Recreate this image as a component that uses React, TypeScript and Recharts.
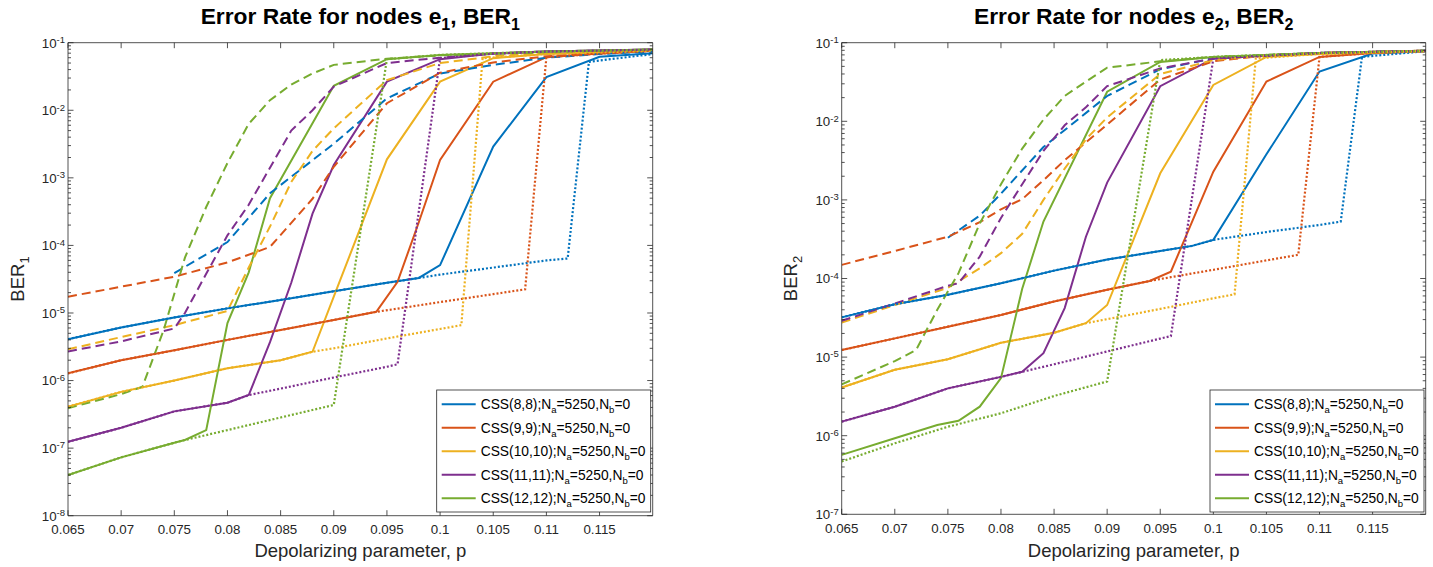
import React from 'react';
import { LineChart, Line, XAxis, YAxis } from 'recharts';

type Pt = [number, number];

const COLORS = ['#0072BD', '#D95319', '#EDB120', '#7E2F8E', '#77AC30'];
const AXIS = '#262626';
const FONT = '"Liberation Sans", Arial, Helvetica, sans-serif';

const codeNames = ['CSS(8,8)', 'CSS(9,9)', 'CSS(10,10)', 'CSS(11,11)', 'CSS(12,12)'];
const xTicks = [0.065, 0.07, 0.075, 0.08, 0.085, 0.09, 0.095, 0.1, 0.105, 0.11, 0.115];
const ber1Decades = [-8, -7, -6, -5, -4, -3, -2, -1];
const ber2Decades = [-7, -6, -5, -4, -3, -2, -1];

// ---- BER1, nodes e1 ----
const e1Css8Solid: Pt[] = [[0.065, 4.1e-6], [0.07, 6.1e-6], [0.075, 8.6e-6], [0.08, 1.17e-5], [0.085, 1.56e-5], [0.09, 2.1e-5], [0.095, 2.8e-5], [0.098, 3.3e-5], [0.1, 5.1e-5], [0.105, 2.9e-3], [0.11, 3.1e-2], [0.115, 6.2e-2], [0.12, 7.0e-2]];
const e1Css8Dashed: Pt[] = [[0.075, 3.9e-5], [0.08, 1.12e-4], [0.084, 5.9e-4], [0.09, 3.2e-3], [0.095, 1.5e-2], [0.1, 3.5e-2], [0.105, 4.7e-2], [0.11, 6.0e-2], [0.115, 6.8e-2], [0.12, 7.4e-2]];
const e1Css8Dotted: Pt[] = [[0.065, 4.1e-6], [0.07, 6.1e-6], [0.075, 8.6e-6], [0.08, 1.17e-5], [0.085, 1.56e-5], [0.09, 2.1e-5], [0.095, 2.8e-5], [0.098, 3.3e-5], [0.1, 3.7e-5], [0.105, 4.7e-5], [0.11, 6.0e-5], [0.112, 6.4e-5], [0.114, 5.2e-2], [0.12, 6.8e-2]];

const e1Css9Solid: Pt[] = [[0.065, 1.28e-6], [0.07, 2.0e-6], [0.075, 2.8e-6], [0.08, 4.0e-6], [0.085, 5.6e-6], [0.09, 7.9e-6], [0.094, 1.04e-5], [0.096, 2.9e-5], [0.098, 2.2e-4], [0.1, 1.84e-3], [0.105, 2.65e-2], [0.11, 6.1e-2], [0.115, 6.9e-2], [0.12, 7.6e-2]];
const e1Css9Dashed: Pt[] = [[0.065, 1.74e-5], [0.07, 2.45e-5], [0.075, 3.44e-5], [0.08, 5.6e-5], [0.083, 8.3e-5], [0.084, 9.5e-5], [0.088, 4.9e-4], [0.09, 1.46e-3], [0.095, 1.27e-2], [0.1, 3.6e-2], [0.105, 5.1e-2], [0.11, 6.3e-2], [0.12, 7.6e-2]];
const e1Css9Dotted: Pt[] = [[0.065, 1.28e-6], [0.07, 2.0e-6], [0.075, 2.8e-6], [0.08, 4.0e-6], [0.085, 5.6e-6], [0.09, 7.9e-6], [0.094, 1.04e-5], [0.096, 1.16e-5], [0.1, 1.45e-5], [0.105, 1.9e-5], [0.108, 2.24e-5], [0.11, 6.1e-2], [0.115, 6.9e-2], [0.12, 7.6e-2]];

const e1Css10Solid: Pt[] = [[0.065, 4.1e-7], [0.07, 6.8e-7], [0.075, 1.0e-6], [0.08, 1.52e-6], [0.085, 2.0e-6], [0.088, 2.67e-6], [0.09, 1.74e-5], [0.095, 1.88e-3], [0.1, 2.65e-2], [0.105, 5.9e-2], [0.11, 6.8e-2], [0.12, 7.6e-2]];
const e1Css10Dashed: Pt[] = [[0.065, 2.9e-6], [0.07, 4.4e-6], [0.075, 6.6e-6], [0.08, 1.07e-5], [0.082, 4.7e-5], [0.084, 1.9e-4], [0.086, 8.7e-4], [0.088, 2.5e-3], [0.09, 5.4e-3], [0.095, 2.8e-2], [0.1, 5.0e-2], [0.105, 6.3e-2], [0.11, 7.1e-2], [0.12, 7.8e-2]];
const e1Css10Dotted: Pt[] = [[0.065, 4.1e-7], [0.07, 6.8e-7], [0.075, 1.0e-6], [0.08, 1.52e-6], [0.085, 2.0e-6], [0.088, 2.67e-6], [0.09, 3.0e-6], [0.095, 4.2e-6], [0.1, 5.8e-6], [0.102, 6.6e-6], [0.104, 5.9e-2], [0.11, 6.8e-2], [0.12, 7.6e-2]];

const e1Css11Solid: Pt[] = [[0.065, 1.24e-7], [0.07, 2.0e-7], [0.075, 3.5e-7], [0.08, 4.7e-7], [0.082, 6.1e-7], [0.084, 3.7e-6], [0.086, 2.8e-5], [0.088, 2.95e-4], [0.09, 1.55e-3], [0.095, 2.65e-2], [0.1, 5.7e-2], [0.105, 6.9e-2], [0.11, 7.4e-2], [0.12, 7.9e-2]];
const e1Css11Dashed: Pt[] = [[0.065, 2.7e-6], [0.07, 3.8e-6], [0.075, 5.9e-6], [0.076, 1.0e-5], [0.078, 3.8e-5], [0.08, 1.41e-4], [0.082, 4.0e-4], [0.084, 1.41e-3], [0.086, 5.0e-3], [0.088, 1.0e-2], [0.09, 2.24e-2], [0.095, 5.0e-2], [0.1, 6.0e-2], [0.105, 6.9e-2], [0.11, 7.4e-2], [0.12, 7.9e-2]];
const e1Css11Dotted: Pt[] = [[0.065, 1.24e-7], [0.07, 2.0e-7], [0.075, 3.5e-7], [0.08, 4.7e-7], [0.082, 6.1e-7], [0.085, 7.6e-7], [0.09, 1.11e-6], [0.095, 1.6e-6], [0.096, 1.74e-6], [0.1, 5.9e-2], [0.105, 6.9e-2], [0.11, 7.4e-2], [0.12, 7.9e-2]];

const e1Css12Solid: Pt[] = [[0.065, 4.0e-8], [0.07, 7.3e-8], [0.075, 1.2e-7], [0.076, 1.32e-7], [0.078, 1.85e-7], [0.08, 7.1e-6], [0.082, 4.0e-5], [0.084, 5.0e-4], [0.09, 2.3e-2], [0.095, 5.7e-2], [0.1, 6.6e-2], [0.11, 7.4e-2], [0.12, 7.9e-2]];
const e1Css12Dashed: Pt[] = [[0.065, 3.9e-7], [0.07, 6.3e-7], [0.072, 8.1e-7], [0.074, 5.6e-6], [0.076, 6.6e-5], [0.078, 3.7e-4], [0.08, 1.66e-3], [0.082, 6.3e-3], [0.084, 1.41e-2], [0.086, 2.4e-2], [0.088, 3.5e-2], [0.09, 4.7e-2], [0.095, 5.8e-2], [0.1, 6.5e-2], [0.11, 7.2e-2], [0.12, 7.9e-2]];
const e1Css12Dotted: Pt[] = [[0.065, 4.0e-8], [0.07, 7.3e-8], [0.075, 1.2e-7], [0.076, 1.32e-7], [0.078, 1.56e-7], [0.08, 1.85e-7], [0.085, 2.84e-7], [0.09, 4.35e-7], [0.095, 5.7e-2], [0.1, 6.6e-2], [0.11, 7.4e-2], [0.12, 7.9e-2]];

// ---- BER2, nodes e2 ----
const e2Css8Solid: Pt[] = [[0.065, 3.2e-5], [0.07, 4.7e-5], [0.075, 6.2e-5], [0.08, 8.7e-5], [0.085, 1.26e-4], [0.09, 1.74e-4], [0.095, 2.24e-4], [0.098, 2.6e-4], [0.1, 3.1e-4], [0.105, 3.8e-3], [0.11, 4.3e-2], [0.115, 7.3e-2], [0.12, 7.8e-2]];
const e2Css8Dashed: Pt[] = [[0.075, 3.3e-4], [0.078, 6.3e-4], [0.08, 1.2e-3], [0.084, 4.7e-3], [0.09, 2.1e-2], [0.095, 4.6e-2], [0.1, 6.3e-2], [0.105, 6.9e-2], [0.11, 7.4e-2], [0.12, 7.9e-2]];
const e2Css8Dotted: Pt[] = [[0.065, 3.2e-5], [0.07, 4.7e-5], [0.075, 6.2e-5], [0.08, 8.7e-5], [0.085, 1.26e-4], [0.09, 1.74e-4], [0.095, 2.24e-4], [0.098, 2.6e-4], [0.1, 3.1e-4], [0.105, 3.9e-4], [0.11, 4.8e-4], [0.112, 5.3e-4], [0.114, 6.6e-2], [0.12, 7.8e-2]];

const e2Css9Solid: Pt[] = [[0.065, 1.23e-5], [0.07, 1.73e-5], [0.075, 2.44e-5], [0.08, 3.44e-5], [0.085, 5.1e-5], [0.09, 7.2e-5], [0.094, 9.3e-5], [0.096, 1.22e-4], [0.1, 2.29e-3], [0.105, 3.2e-2], [0.11, 6.6e-2], [0.115, 7.4e-2], [0.12, 7.8e-2]];
const e2Css9Dashed: Pt[] = [[0.065, 1.49e-4], [0.07, 2.24e-4], [0.075, 3.4e-4], [0.078, 5.2e-4], [0.08, 7.6e-4], [0.082, 1.02e-3], [0.084, 1.78e-3], [0.086, 3.2e-3], [0.088, 5.4e-3], [0.09, 9.1e-3], [0.095, 3.4e-2], [0.1, 5.8e-2], [0.105, 6.9e-2], [0.11, 7.4e-2], [0.12, 7.9e-2]];
const e2Css9Dotted: Pt[] = [[0.065, 1.23e-5], [0.07, 1.73e-5], [0.075, 2.44e-5], [0.08, 3.44e-5], [0.085, 5.1e-5], [0.09, 7.2e-5], [0.094, 9.3e-5], [0.096, 1.04e-4], [0.1, 1.29e-4], [0.105, 1.7e-4], [0.108, 2.0e-4], [0.11, 6.6e-2], [0.115, 7.4e-2], [0.12, 7.8e-2]];

const e2Css10Solid: Pt[] = [[0.065, 4.1e-6], [0.07, 6.9e-6], [0.075, 9.4e-6], [0.08, 1.52e-5], [0.085, 2.04e-5], [0.088, 2.7e-5], [0.09, 4.6e-5], [0.095, 2.18e-3], [0.1, 2.9e-2], [0.105, 6.6e-2], [0.11, 7.2e-2], [0.12, 7.8e-2]];
const e2Css10Dashed: Pt[] = [[0.065, 2.75e-5], [0.07, 4.6e-5], [0.075, 7.6e-5], [0.078, 1.35e-4], [0.08, 2.1e-4], [0.082, 3.7e-4], [0.084, 1.0e-3], [0.086, 2.5e-3], [0.088, 5.9e-3], [0.09, 1.12e-2], [0.095, 4.0e-2], [0.1, 6.0e-2], [0.105, 6.9e-2], [0.11, 7.4e-2], [0.12, 7.9e-2]];
const e2Css10Dotted: Pt[] = [[0.065, 4.1e-6], [0.07, 6.9e-6], [0.075, 9.4e-6], [0.08, 1.52e-5], [0.085, 2.04e-5], [0.088, 2.7e-5], [0.09, 3.04e-5], [0.095, 4.1e-5], [0.1, 5.6e-5], [0.102, 6.3e-5], [0.104, 6.3e-2], [0.11, 7.2e-2], [0.12, 7.8e-2]];

const e2Css11Solid: Pt[] = [[0.065, 1.51e-6], [0.07, 2.34e-6], [0.075, 4.0e-6], [0.08, 5.6e-6], [0.082, 6.5e-6], [0.084, 1.12e-5], [0.086, 4.2e-5], [0.088, 3.4e-4], [0.09, 1.66e-3], [0.095, 2.8e-2], [0.1, 6.3e-2], [0.11, 7.4e-2], [0.12, 7.9e-2]];
const e2Css11Dashed: Pt[] = [[0.065, 2.9e-5], [0.07, 4.8e-5], [0.075, 8.1e-5], [0.076, 8.7e-5], [0.078, 1.9e-4], [0.08, 5.9e-4], [0.082, 1.58e-3], [0.084, 4.2e-3], [0.086, 8.9e-3], [0.088, 1.51e-2], [0.09, 2.8e-2], [0.095, 4.7e-2], [0.1, 6.3e-2], [0.105, 6.9e-2], [0.11, 7.4e-2], [0.12, 7.9e-2]];
const e2Css11Dotted: Pt[] = [[0.065, 1.51e-6], [0.07, 2.34e-6], [0.075, 4.0e-6], [0.08, 5.6e-6], [0.082, 6.5e-6], [0.085, 8.1e-6], [0.09, 1.18e-5], [0.095, 1.72e-5], [0.096, 1.85e-5], [0.1, 6.3e-2], [0.11, 7.4e-2], [0.12, 7.9e-2]];

const e2Css12Solid: Pt[] = [[0.065, 5.7e-7], [0.07, 9.3e-7], [0.074, 1.37e-6], [0.076, 1.55e-6], [0.078, 2.34e-6], [0.08, 5.4e-6], [0.082, 7.4e-5], [0.084, 5.3e-4], [0.09, 2.38e-2], [0.095, 5.7e-2], [0.1, 6.6e-2], [0.11, 7.4e-2], [0.12, 7.9e-2]];
const e2Css12Dashed: Pt[] = [[0.065, 4.5e-6], [0.07, 8.9e-6], [0.072, 1.23e-5], [0.074, 4.0e-5], [0.076, 1.17e-4], [0.078, 5.0e-4], [0.08, 1.58e-3], [0.082, 4.5e-3], [0.084, 1.05e-2], [0.086, 2.1e-2], [0.088, 3.2e-2], [0.09, 4.8e-2], [0.095, 5.8e-2], [0.1, 6.6e-2], [0.11, 7.4e-2], [0.12, 7.9e-2]];
const e2Css12Dotted: Pt[] = [[0.065, 4.7e-7], [0.07, 8.0e-7], [0.075, 1.3e-6], [0.08, 1.93e-6], [0.085, 3.2e-6], [0.09, 4.9e-6], [0.095, 6.0e-2], [0.1, 6.6e-2], [0.11, 7.4e-2], [0.12, 7.9e-2]];

const ber1Solid = [e1Css8Solid, e1Css9Solid, e1Css10Solid, e1Css11Solid, e1Css12Solid];
const ber1Dashed = [e1Css8Dashed, e1Css9Dashed, e1Css10Dashed, e1Css11Dashed, e1Css12Dashed];
const ber1Dotted = [e1Css8Dotted, e1Css9Dotted, e1Css10Dotted, e1Css11Dotted, e1Css12Dotted];
const ber2Solid = [e2Css8Solid, e2Css9Solid, e2Css10Solid, e2Css11Solid, e2Css12Solid];
const ber2Dashed = [e2Css8Dashed, e2Css9Dashed, e2Css10Dashed, e2Css11Dashed, e2Css12Dashed];
const ber2Dotted = [e2Css8Dotted, e2Css9Dotted, e2Css10Dotted, e2Css11Dotted, e2Css12Dotted];

const toRows = (pts: Pt[]) => pts.map(([p, ber]) => ({ p, ber }));

// decade ticks plus the 2..9 minor ticks of a log axis
const logTicks = (decades: number[]) => {
  const out: number[] = [];
  decades.forEach((e, i) => {
    out.push(Math.pow(10, e));
    if (i < decades.length - 1) for (let k = 2; k <= 9; k++) out.push(k * Math.pow(10, e));
  });
  return out;
};
const isDecade = (v: number) => {
  const e = Math.round(Math.log10(v));
  return Math.abs(v / Math.pow(10, e) - 1) < 1e-6;
};

const fmtX = (v: number) => String(Number(v.toFixed(3)));

// axes are 1px thick boxes; ticks are drawn inward by hand
const BottomTick = (props: any) => {
  const { x, y, payload } = props;
  return (
    <g>
      <line x1={x} x2={x} y1={y} y2={y - 5.5} stroke={AXIS} strokeWidth={0.8} />
      <text x={x} y={y + 18.5} textAnchor="middle" fontSize={13.3} fill={AXIS} fontFamily={FONT}>
        {fmtX(payload.value)}
      </text>
    </g>
  );
};
const TopTick = (props: any) => {
  const { x, y } = props;
  return <line x1={x} x2={x} y1={y} y2={y + 5.5} stroke={AXIS} strokeWidth={0.8} />;
};
const LeftTick = (props: any) => {
  const { x, y, payload } = props;
  const v = payload.value as number;
  const major = isDecade(v);
  const e = Math.round(Math.log10(v));
  return (
    <g>
      <line x1={x} x2={x + (major ? 5.5 : 3)} y1={y} y2={y} stroke={AXIS} strokeWidth={0.8} />
      {major && (
        <text x={x - 3} y={y + 4.8} textAnchor="end" fontSize={13.3} fill={AXIS} fontFamily={FONT}>
          10<tspan dy={-4.5} fontSize={9.5}>{e}</tspan>
        </text>
      )}
    </g>
  );
};
const RightTick = (props: any) => {
  const { x, y, payload } = props;
  const major = isDecade(payload.value);
  return <line x1={x} x2={x - (major ? 5.5 : 3)} y1={y} y2={y} stroke={AXIS} strokeWidth={0.8} />;
};

interface PanelProps {
  left: number;
  width: number;
  margin: { top: number; right: number; bottom: number; left: number };
  decades: number[];
  solid: Pt[][];
  dashed: Pt[][];
  dotted: Pt[][];
}

const Panel = ({ left, width, margin, decades, solid, dashed, dotted }: PanelProps) => {
  const yDomain = [Math.pow(10, decades[0]), Math.pow(10, decades[decades.length - 1])];
  const yTicks = logTicks(decades);
  const axisProps = { stroke: AXIS, strokeWidth: 0.8 };
  // each axis takes 1px, so the margins are one pixel short of the plot edges
  const m = { top: margin.top - 1, right: margin.right - 1, bottom: margin.bottom - 1, left: margin.left - 1 };
  return (
    <div style={{ position: 'absolute', left, top: 0 }}>
      <LineChart width={width} height={567} margin={m}>
        <XAxis xAxisId="b" type="number" dataKey="p" domain={[0.065, 0.12]} ticks={xTicks} interval={0}
          allowDataOverflow height={1} tickSize={0} tickMargin={0} tickLine={false} axisLine={axisProps} tick={BottomTick} />
        <XAxis xAxisId="t" orientation="top" type="number" dataKey="p" domain={[0.065, 0.12]} ticks={xTicks} interval={0}
          allowDataOverflow height={1} tickSize={0} tickMargin={0} tickLine={false} axisLine={axisProps} tick={TopTick} />
        <YAxis yAxisId="l" type="number" scale="log" domain={yDomain} ticks={yTicks} interval={0}
          allowDataOverflow width={1} tickSize={0} tickMargin={0} tickLine={false} axisLine={axisProps} tick={LeftTick} />
        <YAxis yAxisId="r" orientation="right" type="number" scale="log" domain={yDomain} ticks={yTicks} interval={0}
          allowDataOverflow width={1} tickSize={0} tickMargin={0} tickLine={false} axisLine={axisProps} tick={RightTick} />
        {solid.map((pts, i) => (
          <Line key={`s${i}`} xAxisId="b" yAxisId="l" data={toRows(pts)} dataKey="ber" stroke={COLORS[i]}
            strokeWidth={2} dot={false} activeDot={false} isAnimationActive={false} />
        ))}
        {dashed.map((pts, i) => (
          <Line key={`d${i}`} xAxisId="b" yAxisId="l" data={toRows(pts)} dataKey="ber" stroke={COLORS[i]}
            strokeWidth={2} strokeDasharray="9 5" dot={false} activeDot={false} isAnimationActive={false} />
        ))}
        {dotted.map((pts, i) => (
          <Line key={`o${i}`} xAxisId="b" yAxisId="l" data={toRows(pts)} dataKey="ber" stroke={COLORS[i]}
            strokeWidth={2.2} strokeDasharray="2 2" dot={false} activeDot={false} isAnimationActive={false} />
        ))}
      </LineChart>
    </div>
  );
};

const LegendBox = ({ x, y }: { x: number; y: number }) => (
  <g fontFamily={FONT}>
    <rect x={x} y={y} width={214} height={122} fill="#fff" stroke={AXIS} strokeWidth={0.8} />
    {codeNames.map((name, i) => {
      const cy = y + 14.3 + i * 23.5;
      return (
        <g key={name}>
          <line x1={x + 5} x2={x + 39} y1={cy} y2={cy} stroke={COLORS[i]} strokeWidth={2} />
          <text x={x + 44} y={cy + 5} fontSize={13.8} fill="#000">
            {name};N<tspan dy={4} fontSize={9.5}>a</tspan>
            <tspan dy={-4}>=5250,N</tspan>
            <tspan dy={4} fontSize={9.5}>b</tspan>
            <tspan dy={-4}>=0</tspan>
          </text>
        </g>
      );
    })}
  </g>
);

const Title = ({ cx, n }: { cx: number; n: string }) => (
  <text x={cx} y={23.5} textAnchor="middle" fontSize={22.8} fontWeight="bold" fill="#000" fontFamily={FONT}>
    Error Rate for nodes e<tspan dy={6} fontSize={16}>{n}</tspan>
    <tspan dy={-6}>, BER</tspan>
    <tspan dy={6} fontSize={16}>{n}</tspan>
  </text>
);

const YLabel = ({ x, cy, n }: { x: number; cy: number; n: string }) => (
  <text transform={`translate(${x},${cy}) rotate(-90)`} textAnchor="middle" fontSize={18.5} fill={AXIS} fontFamily={FONT}>
    BER<tspan dy={5} fontSize={13}>{n}</tspan>
  </text>
);

const XLabel = ({ cx }: { cx: number }) => (
  <text x={cx} y={556.5} textAnchor="middle" fontSize={18.5} fill={AXIS} fontFamily={FONT}>
    Depolarizing parameter, p
  </text>
);

export default function App() {
  return (
    <div style={{ position: 'absolute', left: 0, top: 0, width: 1433, height: 567, background: '#fff', overflow: 'hidden' }}>
      <Panel left={0} width={700} margin={{ top: 42.7, right: 47.3, bottom: 51.3, left: 68 }}
        decades={ber1Decades} solid={ber1Solid} dashed={ber1Dashed} dotted={ber1Dotted} />
      <Panel left={720} width={713} margin={{ top: 42.7, right: 7.3, bottom: 52.7, left: 121.7 }}
        decades={ber2Decades} solid={ber2Solid} dashed={ber2Dashed} dotted={ber2Dotted} />
      <svg width={1433} height={567} style={{ position: 'absolute', left: 0, top: 0, pointerEvents: 'none' }}>
        <Title cx={360.3} n="1" />
        <Title cx={1133.7} n="2" />
        <YLabel x={23.5} cy={279} n="1" />
        <YLabel x={797} cy={278.5} n="2" />
        <XLabel cx={360.3} />
        <XLabel cx={1133.7} />
        <LegendBox x={436.7} y={390} />
        <LegendBox x={1210} y={390} />
      </svg>
    </div>
  );
}
